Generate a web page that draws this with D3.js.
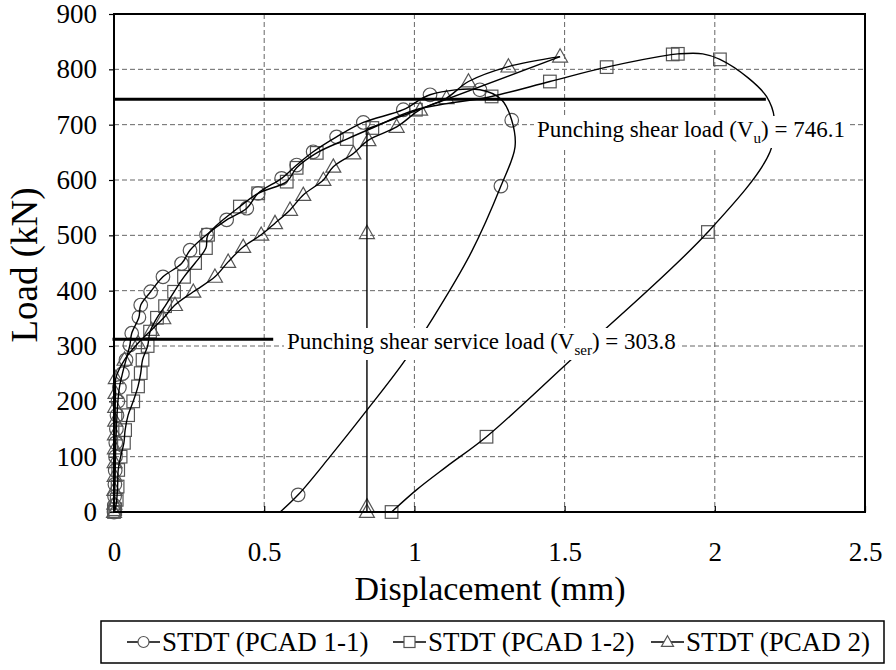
<!DOCTYPE html>
<html><head><meta charset="utf-8">
<script src="https://cdn.jsdelivr.net/npm/d3@7"></script>
<style>body{margin:0;background:#fff}svg{display:block}svg text{font-family:"Times New Roman",Times,"Liberation Serif",Tinos,"Noto Serif","DejaVu Serif",serif}</style>
</head><body>
<svg id="c" width="896" height="670"></svg>
<script>
// ---- data ----
const xTicks = [0, 0.5, 1, 1.5, 2, 2.5];
const xTickLabels = ["0", "0.5", "1", "1.5", "2", "2.5"];
const yTicks = [0, 100, 200, 300, 400, 500, 600, 700, 800, 900];
const seriesNames = ["STDT (PCAD 1-1)", "STDT (PCAD 1-2)", "STDT (PCAD 2)"];
// [displacement, load, hasMarker]
const pcad11 = [[0,0,1],[0.001,12,1],[0.002,28,1],[0.003,50,1],[0.004,75,1],[0.005,100,1],[0.006,125,1],[0.008,150,1],[0.01,175,1],[0.013,200,1],[0.018,225,1],[0.028,250,1],[0.04,275,1],[0.053,302,1],[0.059,323,1],[0.083,352,1],[0.089,374,1],[0.122,398,1],[0.163,425,1],[0.225,449,1],[0.253,473,1],[0.308,501,1],[0.375,528,1],[0.442,549,1],[0.48,576,1],[0.558,603,1],[0.608,627,1],[0.663,651,1],[0.741,678,1],[0.83,704,1],[0.963,727,1],[1.052,754,1],[1.218,763,1],[1.29,745,0],[1.324,708,1],[1.335,660,0],[1.288,589,1],[1.19,470,0],[1.062,351,0],[0.962,269,0],[0.842,184,0],[0.719,100,0],[0.613,31,1],[0.553,0,0]];
const pcad12 = [[0,0,1],[0.004,5,1],[0.009,22,1],[0.012,46,1],[0.014,76,1],[0.022,100,1],[0.033,125,1],[0.037,148,1],[0.047,175,1],[0.064,200,1],[0.08,227,1],[0.089,251,1],[0.095,275,1],[0.112,300,1],[0.12,326,1],[0.143,351,1],[0.17,372,1],[0.2,398,1],[0.233,425,1],[0.27,450,1],[0.306,477,1],[0.313,501,1],[0.419,552,1],[0.48,576,1],[0.575,597,1],[0.608,622,1],[0.675,649,1],[0.775,674,1],[0.86,694,1],[1.005,727,1],[1.257,751,1],[1.451,778,1],[1.64,804,1],[1.86,827,1],[1.877,828,1],[1.96,828,0],[2.017,818,1],[2.11,785,0],[2.172,751,0],[2.198,712,0],[2.184,651,0],[1.977,506,1],[1.507,268,0],[1.24,136,1],[1.107,82,0],[1.007,40,0],[0.924,0,1]];
const pcad2 = [[0,0,1],[0.001,15,1],[0.001,40,1],[0.002,65,1],[0.002,90,1],[0.003,115,1],[0.003,140,1],[0.004,165,1],[0.004,190,1],[0.005,215,1],[0.006,242,1],[0.035,275,1],[0.08,305,1],[0.125,329,1],[0.164,350,1],[0.203,374,1],[0.264,398,1],[0.336,425,1],[0.38,452,1],[0.43,479,1],[0.49,501,1],[0.536,522,1],[0.586,546,1],[0.63,573,1],[0.697,600,1],[0.73,624,1],[0.797,648,1],[0.847,672,1],[0.941,696,1],[1.019,727,1],[1.107,748,1],[1.18,778,1],[1.313,805,1],[1.485,823,1],[0.842,692,0],[0.842,504,1],[0.842,10,1],[0.842,0,1]];
const pcad2PeakIndex = 33; // return path after this point is straight
const vu = 746.1, vuEnd = 2.17;
const vserLine = 312, vserEnd = 0.53;
const vuLabel = ["Punching shear load (V", "u", ") = 746.1"];
const vserLabel = ["Punching shear service load (V", "ser", ") = 303.8"];

// ---- layout ----
const svg = d3.select("#c");
const L = 114, R = 865, T = 14, B = 512;
const x = d3.scaleLinear().domain([0, 2.5]).range([L, R]);
const y = d3.scaleLinear().domain([0, 900]).range([B, T]);

// grid
const g = svg.append("g");
g.selectAll(".gx").data(xTicks.slice(1, -1)).enter().append("line")
  .attr("x1", d => x(d)).attr("x2", d => x(d)).attr("y1", T).attr("y2", B)
  .attr("stroke", "#666").attr("stroke-width", 1).attr("stroke-dasharray", "5,3");
g.selectAll(".gy").data(yTicks.slice(1, -1)).enter().append("line")
  .attr("x1", L).attr("x2", R).attr("y1", d => y(d)).attr("y2", d => y(d))
  .attr("stroke", "#666").attr("stroke-width", 1).attr("stroke-dasharray", "5,3");

// axes
const xAxis = d3.axisBottom(x).tickValues(xTicks).tickFormat((d, i) => xTickLabels[i]).tickSizeInner(-6).tickSizeOuter(0).tickPadding(30);
const yAxis = d3.axisLeft(y).tickValues(yTicks).tickSizeInner(5).tickSizeOuter(0).tickPadding(12);
const ax = svg.append("g").attr("transform", `translate(0,${B})`).call(xAxis);
const ay = svg.append("g").attr("transform", `translate(${L},0)`).call(yAxis);
[ax, ay].forEach(a => {
  a.attr("font-family", null);
  a.select(".domain").remove();
  a.selectAll("line").attr("stroke", "#000").attr("stroke-width", 1.2);
  a.selectAll("text").attr("font-size", 27).attr("fill", "#000");
});

// series
const smooth = d3.line().x(d => x(d[0])).y(d => y(d[1])).curve(d3.curveCatmullRom.alpha(0.5));
const straight = d3.line().x(d => x(d[0])).y(d => y(d[1]));
const mk = {
  circle: (s, cx, cy, r) => s.append("circle").attr("cx", cx).attr("cy", cy).attr("r", r),
  square: (s, cx, cy, r) => s.append("rect").attr("x", cx - r).attr("y", cy - r).attr("width", 2 * r).attr("height", 2 * r),
  triangle: (s, cx, cy, r) => s.append("path").attr("d", `M${cx},${cy - r * 1.15}L${cx + r * 1.1},${cy + r * 0.8}L${cx - r * 1.1},${cy + r * 0.8}Z`)
};
const series = [
  { data: pcad11, shape: "circle", r: 6.8, split: null },
  { data: pcad12, shape: "square", r: 6.3, split: null },
  { data: pcad2, shape: "triangle", r: 6.8, split: pcad2PeakIndex }
];
series.forEach(s => {
  const grp = svg.append("g");
  s.data.filter(d => d[2]).forEach(d => {
    mk[s.shape](grp, x(d[0]), y(d[1]), s.r).attr("fill", "none").attr("stroke", "#555").attr("stroke-width", 1.2);
  });
});
series.forEach(s => {
  if (s.split == null) {
    svg.append("path").attr("d", smooth(s.data)).attr("fill", "none").attr("stroke", "#000").attr("stroke-width", 1.4);
  } else {
    svg.append("path").attr("d", smooth(s.data.slice(0, s.split + 1))).attr("fill", "none").attr("stroke", "#000").attr("stroke-width", 1.4);
    svg.append("path").attr("d", straight(s.data.slice(s.split))).attr("fill", "none").attr("stroke", "#000").attr("stroke-width", 1.4);
  }
});

// border
svg.append("rect").attr("x", L).attr("y", T).attr("width", R - L).attr("height", B - T)
  .attr("fill", "none").attr("stroke", "#000").attr("stroke-width", 2);

// reference lines
svg.append("line").attr("x1", x(0)).attr("x2", x(vuEnd)).attr("y1", y(vu)).attr("y2", y(vu))
  .attr("stroke", "#000").attr("stroke-width", 3);
svg.append("line").attr("x1", x(-0.005)).attr("x2", x(vserEnd)).attr("y1", y(vserLine)).attr("y2", y(vserLine))
  .attr("stroke", "#000").attr("stroke-width", 3);

function label(parts, px, py) {
  const grp = svg.append("g");
  const bg = grp.append("rect").attr("fill", "#fff");
  const t = grp.append("text").attr("x", px).attr("y", py).attr("font-size", 23).attr("fill", "#000");
  t.append("tspan").text(parts[0]);
  t.append("tspan").attr("dy", 6).attr("font-size", 15).text(parts[1]);
  t.append("tspan").attr("dy", -6).text(parts[2]);
  const bb = t.node().getBBox();
  bg.attr("x", bb.x - 3).attr("y", bb.y - 1).attr("width", bb.width + 6).attr("height", bb.height + 3);
}
label(vuLabel, 537, 137);
label(vserLabel, 287, 349);

// axis titles
svg.append("text").attr("transform", "translate(37,265) rotate(-90)").attr("text-anchor", "middle")
  .attr("font-size", 37).text("Load (kN)");
svg.append("text").attr("x", 490).attr("y", 600).attr("text-anchor", "middle")
  .attr("font-size", 34).text("Displacement (mm)");

// legend
svg.append("rect").attr("x", 101).attr("y", 621).attr("width", 783).attr("height", 42)
  .attr("fill", "none").attr("stroke", "#000").attr("stroke-width", 1.5);
const legX = [127, 393, 651];
seriesNames.forEach((n, i) => {
  const lx = legX[i], ly = 642;
  svg.append("line").attr("x1", lx).attr("x2", lx + 33).attr("y1", ly).attr("y2", ly).attr("stroke", "#000").attr("stroke-width", 1.4);
  mk[series[i].shape](svg, lx + 16.5, ly, 5.5).attr("fill", "#fff").attr("stroke", "#555").attr("stroke-width", 1.2);
  svg.append("text").attr("x", lx + 35).attr("y", ly + 9).attr("font-size", 27).text(n);
});
</script>
</body></html>
